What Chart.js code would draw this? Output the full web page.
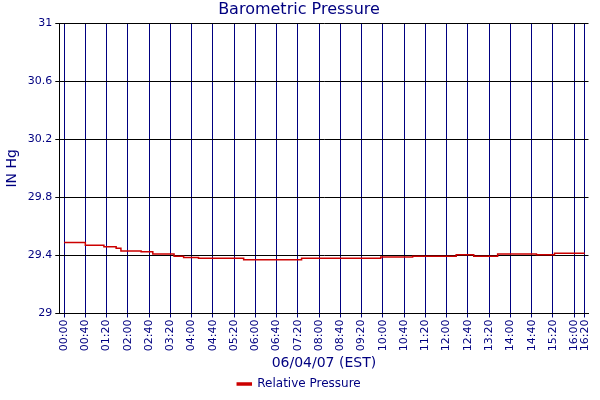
<!DOCTYPE html><html><head><script src="https://cdn.jsdelivr.net/npm/chart.js"></script>
<style>body{margin:0;background:#fff}</style></head><body><canvas id="c" width="600" height="400"></canvas>
<script>
const minutes=[0,40,75,98,107,145,167,207,225,253,338,447,596,656,738,771,816,889,923,980];
const pressure=[29.49,29.47,29.46,29.45,29.43,29.425,29.41,29.395,29.385,29.38,29.37,29.38,29.39,29.395,29.405,29.395,29.41,29.405,29.415,29.415];
const yTicks=[29,29.4,29.8,30.2,30.6,31];
const xTicks=[];for(let m=0;m<=960;m+=40)xTicks.push(m);xTicks.push(980);
const fmt=m=>String(Math.floor(m/60)).padStart(2,'0')+':'+String(m%60).padStart(2,'0');
const navy='#000080';
Chart.defaults.font.family='DejaVu Sans';
new Chart(document.getElementById('c'),{type:'line',
data:{datasets:[{label:'Relative Pressure',data:minutes.map((m,i)=>({x:m,y:pressure[i]})),borderColor:'#cc0000',backgroundColor:'#cc0000',borderWidth:1.5,pointRadius:0,stepped:true}]},
options:{responsive:false,animation:false,devicePixelRatio:1,layout:{padding:{right:2}},
plugins:{title:{display:true,text:'Barometric Pressure',color:navy,font:{size:16,weight:'normal'},padding:{top:0,bottom:4}},
legend:{position:'bottom',labels:{color:navy,font:{size:12},boxWidth:14,boxHeight:2,padding:6}}},
scales:{x:{type:'linear',min:-9,max:987,afterBuildTicks:a=>{a.ticks=xTicks.map(v=>({value:v}))},
ticks:{color:navy,font:{size:11},maxRotation:90,minRotation:90,autoSkip:false,callback:v=>fmt(v),padding:2},
grid:{color:navy,lineWidth:1,drawTicks:true,tickLength:4},border:{color:'#000'},
title:{display:true,text:'06/04/07 (EST)',color:navy,font:{size:14},padding:{top:2,bottom:0}}},
y:{min:29,max:31,afterBuildTicks:a=>{a.ticks=yTicks.map(v=>({value:v}))},
ticks:{color:navy,font:{size:11},autoSkip:false,callback:v=>String(v)},grid:{color:'#000',tickLength:4},border:{color:'#000'},
title:{display:true,text:'IN Hg',color:navy,font:{size:14}}}}}});
</script></body></html>
